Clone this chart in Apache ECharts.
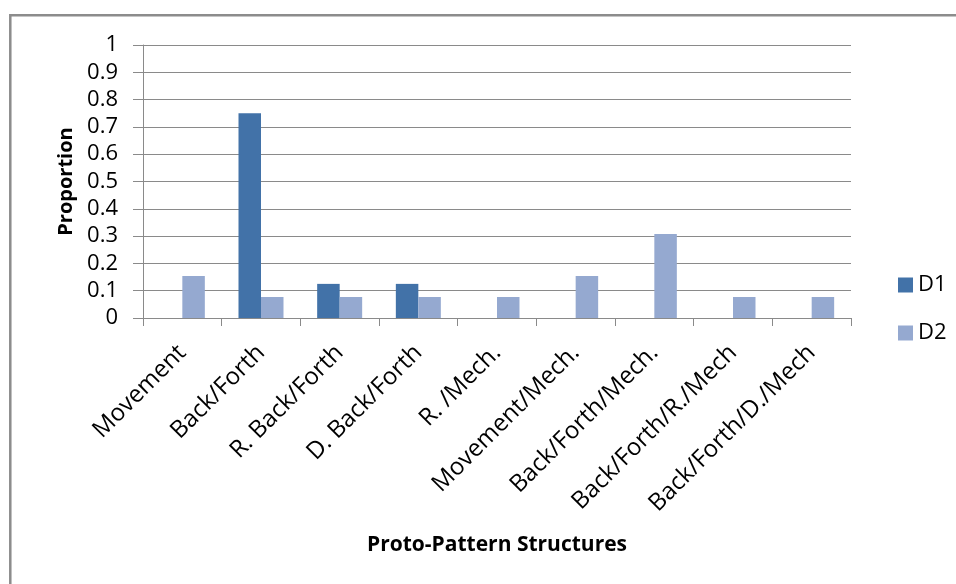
<!DOCTYPE html>
<html>
<head>
<meta charset="utf-8">
<script src="https://cdn.jsdelivr.net/npm/echarts@6/dist/echarts.min.js"></script>
<style>
  html, body { margin: 0; padding: 0; background: #fff; }
  #chart { width: 956px; height: 584px; }
</style>
</head>
<body>
<div id="chart"></div>
<script>
// Proto-pattern structure categories
const categories = [
  'Movement', 'Back/Forth', 'R. Back/Forth', 'D. Back/Forth', 'R. /Mech.',
  'Movement/Mech.', 'Back/Forth/Mech.', 'Back/Forth/R./Mech', 'Back/Forth/D./Mech'
];

// Proportion of each structure per data set (null = no bar)
const d1Values = [null, 0.75, 0.125, 0.125, null, null, null, null, null];
const d2Values = [0.154, 0.077, 0.077, 0.077, 0.077, 0.154, 0.308, 0.077, 0.077];

// Value-axis tick labels, 0 to 1 in steps of 0.1
const yTickLabels = ['0', '0.1', '0.2', '0.3', '0.4', '0.5', '0.6', '0.7', '0.8', '0.9', '1'];

const FONT = '"Open Sans", "DejaVu Sans", sans-serif';
const GRID_GRAY = '#8a8a8a';

const chart = echarts.init(document.getElementById('chart'), null, { renderer: 'canvas' });

chart.setOption({
  animation: false,
  backgroundColor: '#ffffff',
  textStyle: { fontFamily: FONT, color: '#000' },
  graphic: [{
    // chart-area frame (runs off the right and bottom edges)
    type: 'rect',
    shape: { x: 10.3, y: 15.3, width: 1200, height: 1200 },
    style: { fill: 'none', stroke: '#8c8c8c', lineWidth: 2.5 },
    silent: true,
    z: -1
  }],
  grid: { left: 143, right: 105, top: 45, bottom: 266, containLabel: false },
  legend: {
    orient: 'vertical',
    left: 893,
    top: 269,
    itemWidth: 15,
    itemHeight: 15,
    itemGap: 26,
    icon: 'rect',
    textStyle: { fontFamily: FONT, fontSize: 22, lineHeight: 22, color: '#000' },
    data: ['D1', 'D2']
  },
  xAxis: {
    type: 'category',
    data: categories,
    name: 'Proto-Pattern Structures',
    nameLocation: 'middle',
    nameGap: 217,
    nameTextStyle: { fontFamily: FONT, fontSize: 21, fontWeight: 'bold', color: '#000' },
    axisLine: { lineStyle: { color: GRID_GRAY, width: 1 } },
    axisTick: { show: true, length: 8, lineStyle: { color: GRID_GRAY } },
    axisLabel: {
      interval: 0,
      rotate: 45,
      margin: 31,
      fontFamily: FONT,
      fontSize: 24,
      color: '#000'
    }
  },
  yAxis: {
    type: 'value',
    min: 0,
    max: 1,
    interval: 0.1,
    name: 'Proportion',
    nameLocation: 'middle',
    nameRotate: 90,
    nameGap: 67,
    nameTextStyle: { fontFamily: FONT, fontSize: 20, fontWeight: 'bold', color: '#000' },
    axisLine: { show: true, lineStyle: { color: GRID_GRAY, width: 1 } },
    axisTick: { show: true, inside: false, length: 10, lineStyle: { color: GRID_GRAY } },
    splitLine: { show: true, lineStyle: { color: GRID_GRAY, width: 1 } },
    axisLabel: {
      margin: 25,
      fontFamily: FONT,
      fontSize: 22,
      color: '#000',
      formatter: function (v) { return yTickLabels[Math.round(v * 10)]; }
    }
  },
  series: [
    {
      name: 'D1',
      type: 'bar',
      data: d1Values,
      barWidth: 22.5,
      barGap: '0%',
      itemStyle: { color: '#4272a8' }
    },
    {
      name: 'D2',
      type: 'bar',
      data: d2Values,
      barWidth: 22.5,
      barGap: '0%',
      itemStyle: { color: '#95a9d0' }
    }
  ]
});
</script>
</body>
</html>
